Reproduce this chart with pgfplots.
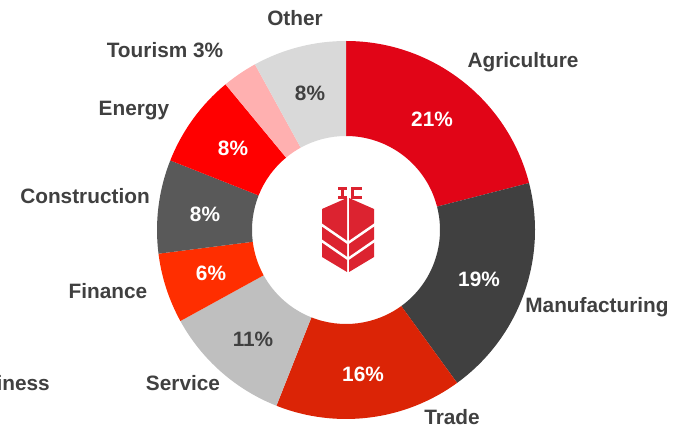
\documentclass[border=0pt]{standalone}
\usepackage{pgfplots}
\pgfplotsset{compat=1.18}
\usepackage{pgfplotstable}
\usepackage{fontspec}
\setmainfont{Liberation Sans}
\usetikzlibrary{calc}

\definecolor{txt}{HTML}{404040}
\definecolor{cAgri}{HTML}{E10517}
\definecolor{cManu}{HTML}{404040}
\definecolor{cTrade}{HTML}{DB2406}
\definecolor{cServ}{HTML}{BFBFBF}
\definecolor{cFin}{HTML}{FF2E00}
\definecolor{cCons}{HTML}{595959}
\definecolor{cEner}{HTML}{FF0000}
\definecolor{cTour}{HTML}{FFB0B0}
\definecolor{cOther}{HTML}{D9D9D9}
\definecolor{logo}{HTML}{DC2330}

\tikzset{lab/.style={font=\fontsize{20.8}{24}\selectfont\bfseries, text=txt, inner sep=0pt}}

% share in %, slice colour, label colour, label position (px, from top), show label
\pgfplotstableread[col sep=comma]{
pct,col,tcol,px,py,show
21,cAgri,white,432,119,1
19,cManu,white,479,279,1
16,cTrade,white,363,374,1
11,cServ,txt,253,339,1
6,cFin,white,211,273,1
8,cCons,white,205,214,1
8,cEner,white,233,148,1
3,cTour,txt,0,0,0
8,cOther,txt,310,93,1
}\sectors

\begin{document}
\begin{tikzpicture}
\useasboundingbox (0,0) rectangle (677pt,427pt);
\begin{axis}[
  scale only axis, width=677pt, height=427pt,
  xmin=0, xmax=677, ymin=0, ymax=427, y dir=reverse,
  enlargelimits=false, hide axis, clip=false,
]
\pgfplotstablegetrowsof{\sectors}
\pgfmathtruncatemacro\nrows{\pgfplotsretval-1}
\def\angA{90}
\pgfplotsforeachungrouped \i in {0,...,\nrows}{%
  \pgfplotstablegetelem{\i}{pct}\of\sectors \let\p\pgfplotsretval
  \pgfplotstablegetelem{\i}{col}\of\sectors \let\c\pgfplotsretval
  \pgfplotstablegetelem{\i}{tcol}\of\sectors \let\tc\pgfplotsretval
  \pgfplotstablegetelem{\i}{px}\of\sectors \let\px\pgfplotsretval
  \pgfplotstablegetelem{\i}{py}\of\sectors \let\py\pgfplotsretval
  \pgfplotstablegetelem{\i}{show}\of\sectors \let\sh\pgfplotsretval
  \pgfmathsetmacro\angB{\angA-3.6*\p}
  \edef\temp{\noexpand\fill[\c]
    ($(axis cs:346,230)+(canvas polar cs:angle=\angA,radius=189pt)$)
    arc[start angle=\angA, end angle=\angB, radius=189pt]
    -- ($(axis cs:346,230)+(canvas polar cs:angle=\angB,radius=94pt)$)
    arc[start angle=\angB, end angle=\angA, radius=94pt] -- cycle;}
  \temp
  \ifnum\sh=1
    \edef\temp{\noexpand\node[lab, text=\tc] at (axis cs:\px,\py) {\p\noexpand\%};}
    \temp
  \fi
  \let\angA\angB
}

% labels around the ring
\node[lab] at (axis cs:523,62) {Agriculture};
\node[lab] at (axis cs:597,307) {Manufacturing};
\node[lab] at (axis cs:452,417) {Trade};
\node[lab] at (axis cs:183,383) {Service};
\node[lab, anchor=east] at (axis cs:50,383) {Business};
\node[lab] at (axis cs:108,291) {Finance};
\node[lab] at (axis cs:85,196) {Construction};
\node[lab] at (axis cs:134,111) {Energy};
\node[lab] at (axis cs:165,50) {Tourism 3\%};
\node[lab] at (axis cs:295,18) {Other};

% logo in the centre
\fill[logo] (axis cs:322,209) -- (axis cs:347,198) -- (axis cs:347,272) -- (axis cs:322,257) -- cycle;
\fill[logo] (axis cs:374,209) -- (axis cs:349,198) -- (axis cs:349,272) -- (axis cs:374,257) -- cycle;
\draw[white, line width=2.5pt] (axis cs:319,223) -- (axis cs:348,243);
\draw[white, line width=2.5pt] (axis cs:319,239) -- (axis cs:348,259);
\draw[white, line width=2.5pt] (axis cs:377,223) -- (axis cs:348,243);
\draw[white, line width=2.5pt] (axis cs:377,239) -- (axis cs:348,259);
\fill[logo] (axis cs:338,187) rectangle (axis cs:347,190);
\fill[logo] (axis cs:341,187) rectangle (axis cs:344,199);
\fill[logo] (axis cs:338,196) rectangle (axis cs:347,199);
\fill[logo] (axis cs:351,187) rectangle (axis cs:362,190);
\fill[logo] (axis cs:351,187) rectangle (axis cs:354,199);
\fill[logo] (axis cs:351,196) rectangle (axis cs:362,199);
\end{axis}
\end{tikzpicture}
\end{document}
